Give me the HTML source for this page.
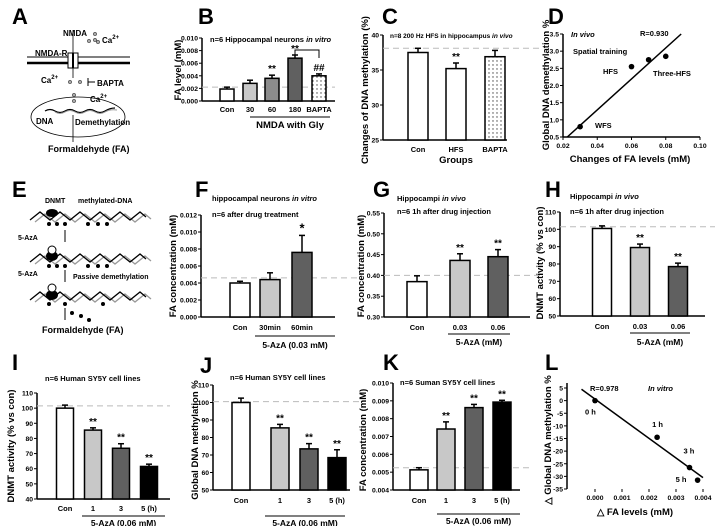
<!DOCTYPE html>
<html><head><meta charset="utf-8">
<style>
html,body{margin:0;padding:0;background:#fff;}
svg{display:block;font-family:"Liberation Sans",Arial,sans-serif;font-weight:bold;}
</style></head>
<body>
<svg id="fig" width="721" height="526" viewBox="0 0 721 526" xmlns="http://www.w3.org/2000/svg">
<defs>
<pattern id="dots" width="4" height="4" patternUnits="userSpaceOnUse"><rect width="4" height="4" fill="#fff"/><circle cx="1" cy="1" r="0.7" fill="#444"/></pattern>
</defs>
<g font-size="22" fill="#000">
<text x="12" y="24">A</text><text x="198" y="24">B</text><text x="382" y="24">C</text><text x="548" y="24">D</text>
<text x="12" y="197">E</text><text x="195" y="197">F</text><text x="373" y="197">G</text><text x="545" y="197">H</text>
<text x="12" y="370">I</text><text x="200" y="373">J</text><text x="383" y="370">K</text><text x="545" y="370">L</text>
</g>
<g font-size="8">
<line x1="27" y1="57" x2="130" y2="57" stroke="#000" stroke-width="1"/>
<line x1="27" y1="63" x2="130" y2="63" stroke="#000" stroke-width="2.5"/>
<rect x="68" y="53" width="10" height="15" fill="#fff" stroke="#000"/>
<line x1="73" y1="53" x2="73" y2="68" stroke="#000" stroke-width="2"/>
<line x1="73" y1="30" x2="73" y2="53" stroke="#000" stroke-width="0.8"/>
<line x1="73" y1="68" x2="73" y2="78" stroke="#000" stroke-width="0.8"/>
<text x="63" y="36">NMDA</text>
<text x="35" y="56">NMDA-R</text>
<text x="102" y="43">Ca<tspan font-size="6" dy="-4">2+</tspan></text>
<text x="41" y="83">Ca<tspan font-size="6" dy="-4">2+</tspan></text>
<text x="97" y="86">BAPTA</text>
<line x1="88" y1="78" x2="88" y2="86" stroke="#000"/><line x1="88" y1="82" x2="95" y2="82" stroke="#000"/>
<text x="90" y="102">Ca<tspan font-size="6" dy="-4">2+</tspan></text>
<g fill="#aaa" stroke="#333" stroke-width="0.6">
<circle cx="95" cy="34" r="1.6"/><circle cx="89" cy="41" r="1.6"/><circle cx="95" cy="40" r="1.6"/><circle cx="98" cy="42" r="1.6"/>
<circle cx="70" cy="82" r="1.6"/><circle cx="80" cy="82" r="1.6"/><circle cx="74" cy="95" r="1.6"/><circle cx="74" cy="101" r="1.6"/>
</g>
<ellipse cx="78" cy="117" rx="47" ry="20" fill="none" stroke="#000" stroke-width="0.8"/>
<path d="M45,111 q5,-3 10,0 t10,0 t10,0 t10,0 t10,0 t10,0 t10,-3" fill="none" stroke="#000" stroke-width="1.2"/>
<path d="M55,112 q5,3 10,0 t10,0 t10,0 t10,0 t10,0 t12,-2" fill="none" stroke="#999" stroke-width="1"/>
<text x="36" y="124">DNA</text>
<text x="75" y="125">Demethylation</text>
<line x1="73" y1="115" x2="73" y2="142" stroke="#000" stroke-width="0.8"/>
<text x="48" y="152" font-size="9">Formaldehyde (FA)</text>
</g>
<g font-size="7">
<text x="45" y="203">DNMT</text><text x="78" y="203">methylated-DNA</text>
<path d="M30,220 l10,-8 l10,8 l10,-8 l10,8 l10,-8 l10,8 l10,-8 l10,8 l10,-8 l10,8 l10,-8 l6,5" fill="none" stroke="#999" stroke-width="1.3" transform="translate(5,2)"/>
<path d="M30,220 l10,-8 l10,8 l10,-8 l10,8 l10,-8 l10,8 l10,-8 l10,8 l10,-8 l10,8 l10,-8 l6,5" fill="none" stroke="#000" stroke-width="1.3"/>
<ellipse cx="52" cy="213" rx="6" ry="4" fill="#000"/>
<g fill="#000"><circle cx="49" cy="224" r="2"/><circle cx="57" cy="224" r="2"/><circle cx="65" cy="224" r="2"/><circle cx="88" cy="224" r="2"/><circle cx="98" cy="224" r="2"/><circle cx="107" cy="224" r="2"/></g>
<line x1="65" y1="230" x2="65" y2="242" stroke="#000"/>
<text x="18" y="240">5-AzA</text>
<path d="M30,262 l10,-8 l10,8 l10,-8 l10,8 l10,-8 l10,8 l10,-8 l10,8 l10,-8 l10,8 l10,-8 l6,5" fill="none" stroke="#999" stroke-width="1.3" transform="translate(5,2)"/>
<path d="M30,262 l10,-8 l10,8 l10,-8 l10,8 l10,-8 l10,8 l10,-8 l10,8 l10,-8 l10,8 l10,-8 l6,5" fill="none" stroke="#000" stroke-width="1.3"/>
<ellipse cx="52" cy="256" rx="6" ry="5" fill="#000"/><circle cx="52" cy="250" r="4" fill="#fff" stroke="#000"/>
<g fill="#000"><circle cx="49" cy="266" r="2"/><circle cx="57" cy="266" r="2"/><circle cx="65" cy="266" r="2"/><circle cx="88" cy="266" r="2"/><circle cx="98" cy="266" r="2"/><circle cx="107" cy="266" r="2"/></g>
<line x1="65" y1="270" x2="65" y2="282" stroke="#000"/>
<text x="18" y="276">5-AzA</text><text x="73" y="279">Passive demethylation</text>
<path d="M30,300 l10,-8 l10,8 l10,-8 l10,8 l10,-8 l10,8 l10,-8 l10,8 l10,-8 l10,8 l10,-8 l6,5" fill="none" stroke="#999" stroke-width="1.3" transform="translate(5,2)"/>
<path d="M30,300 l10,-8 l10,8 l10,-8 l10,8 l10,-8 l10,8 l10,-8 l10,8 l10,-8 l10,8 l10,-8 l6,5" fill="none" stroke="#000" stroke-width="1.3"/>
<ellipse cx="52" cy="295" rx="6" ry="5" fill="#000"/><circle cx="52" cy="288" r="4" fill="#fff" stroke="#000"/>
<g fill="#000"><circle cx="49" cy="304" r="2"/><circle cx="65" cy="304" r="2"/><circle cx="103" cy="304" r="2"/><circle cx="72" cy="313" r="2"/><circle cx="81" cy="316" r="2"/><circle cx="89" cy="320" r="2"/></g>
<line x1="65" y1="308" x2="65" y2="320" stroke="#000"/>
<text x="42" y="333" font-size="9">Formaldehyde (FA)</text>
</g>
<g id="charts"></g>
</svg>
<script>
const bCats=["Con","30","60","180","BAPTA"];
const bVals=[0.0019,0.0028,0.0036,0.0068,0.0040];
const bErrs=[0.0003,0.0005,0.0005,0.0005,0.0003];
const bTicks=[0,0.002,0.004,0.006,0.008,0.010];
const bTickLabels=["0.000","0.002","0.004","0.006","0.008","0.010"];
const bSig=["","","**","**","##"];
const cCats=["Con","HFS","BAPTA"];
const cVals=[37.5,35.2,36.9];
const cErrs=[0.6,0.8,0.9];
const cTicks=[25,30,35,40];
const cSig=["","**",""];
const dX=[0.03,0.06,0.07,0.08];
const dY=[0.8,2.55,2.75,2.85];
const dXTicks=[0.02,0.04,0.06,0.08,0.10];
const dXTickLabels=["0.02","0.04","0.06","0.08","0.10"];
const dYTicks=[0.5,1.0,1.5,2.0,2.5,3.0,3.5];
const dYTickLabels=["0.5","1.0","1.5","2.0","2.5","3.0","3.5"];
const dFit=[[0.0225,0.5],[0.089,3.5]];
const fCats=["Con","30min","60min"];
const fVals=[0.0040,0.0044,0.0076];
const fErrs=[0.0002,0.0008,0.0020];
const fTicks=[0,0.002,0.004,0.006,0.008,0.010,0.012];
const fTickLabels=["0.000","0.002","0.004","0.006","0.008","0.010","0.012"];
const fSig=["","","*"];
const gCats=["Con","0.03","0.06"];
const gVals=[0.385,0.436,0.445];
const gErrs=[0.014,0.016,0.017];
const gTicks=[0.30,0.35,0.40,0.45,0.50,0.55];
const gTickLabels=["0.30","0.35","0.40","0.45","0.50","0.55"];
const gSig=["","**","**"];
const hCats=["Con","0.03","0.06"];
const hVals=[100.5,89.5,78.5];
const hErrs=[1.5,2,2];
const hTicks=[50,60,70,80,90,100,110];
const hSig=["","**","**"];
const iCats=["Con","1","3","5 (h)"];
const iVals=[100,85.5,73.5,61.5];
const iErrs=[2,1.5,3,1.5];
const iTicks=[40,50,60,70,80,90,100,110];
const iSig=["","**","**","**"];
const jCats=["Con","1","3","5 (h)"];
const jVals=[100,85.5,73.5,68.5];
const jErrs=[2.5,2,3,4.5];
const jTicks=[50,60,70,80,90,100,110];
const jSig=["","**","**","**"];
const kCats=["Con","1","3","5 (h)"];
const kVals=[0.00513,0.00742,0.00862,0.00893];
const kErrs=[0.00012,0.0004,0.00018,0.0001];
const kTicks=[0.004,0.005,0.006,0.007,0.008,0.009,0.010];
const kTickLabels=["0.004","0.005","0.006","0.007","0.008","0.009","0.010"];
const kSig=["","**","**","**"];
const lX=[0,0.0023,0.0035,0.0038];
const lY=[0,-14.5,-26.5,-31.5];
const lLabels=["0 h","1 h","3 h","5 h"];
const lXTicks=[0,0.001,0.002,0.003,0.004];
const lXTickLabels=["0.000","0.001","0.002","0.003","0.004"];
const lYTicks=[5,0,-5,-10,-15,-20,-25,-30,-35];
const lFit=[[-0.0005,4.5],[0.004,-30.5]];

const NS="http://www.w3.org/2000/svg";
const root=document.getElementById("charts");
const TF=6.8;
function el(tag,attrs,parent,txt){const e=document.createElementNS(NS,tag);for(const k in attrs)e.setAttribute(k,attrs[k]);if(txt!==undefined)e.textContent=txt;(parent||root).appendChild(e);return e;}
function lin(d0,d1,p0,p1){return v=>p0+(v-d0)/(d1-d0)*(p1-p0);}

function barChart(o,name){
  const g=el("g",{});
  
  
  const y=lin(o.ymin,o.ymax,o.y0,o.y1);
  const ax=el("line",{x1:o.ax,y1:o.y0,x2:o.ax,y2:o.y1,stroke:"#000","stroke-width":1.5},g);
  
  
  const bx=el("line",{x1:o.ax,y1:o.y0,x2:o.xend,y2:o.y0,stroke:"#000","stroke-width":1.5},g);
  
  
  o.ticks.forEach((t,i)=>{
    el("line",{x1:o.ax-3,y1:y(t),x2:o.ax,y2:y(t),stroke:"#000"},g);
    const tl=el("text",{x:o.ax-4,y:y(t)+2.5,"font-size":TF,"text-anchor":"end"},g,o.tickLabels?o.tickLabels[i]:String(t));
    
    
  });
  if(o.dash!==undefined){
    const dl=el("line",{x1:o.ax,y1:y(o.dash),x2:o.dashEnd||o.xend,y2:y(o.dash),stroke:"#bbb","stroke-dasharray":"6,4","stroke-width":1},g);
    
    
  }
  o.cats.forEach((c,i)=>{
    const cx=o.xs[i],w=o.bw,v=o.vals[i],top=y(v);
    const r=el("rect",{x:cx-w/2,y:top,width:w,height:o.y0-top,fill:o.fills[i],stroke:"#000","stroke-width":1.5},g);
    
    
    const et=y(v+o.errs[i]);
    el("line",{x1:cx,y1:top,x2:cx,y2:et,stroke:"#000","stroke-width":1.5},g);
    el("line",{x1:cx-3,y1:et,x2:cx+3,y2:et,stroke:"#000","stroke-width":1.5},g);
    if(o.sig&&o.sig[i]){
      const s=el("text",{x:cx,y:et-3,"font-size":o.sig[i]=="*"?13:10,"text-anchor":"middle"},g,o.sig[i]);
      
      
    }
    const l=el("text",{x:cx,y:o.labY,"font-size":7.5,"text-anchor":"middle"},g,c);
    
    
  });
  if(o.group){
    el("line",{x1:o.group.x1,y1:o.group.ly,x2:o.group.x2,y2:o.group.ly,stroke:"#000"},g);
    const gt=el("text",{x:(o.group.x1+o.group.x2)/2,y:o.group.ty,"font-size":o.group.fs||8.5,"text-anchor":"middle"},g,o.group.text);
    
    
  }
  if(o.ylab){
    const yl=el("text",{x:0,y:0,"font-size":o.ylab.fs||9.5,"text-anchor":"middle",transform:`translate(${o.ylab.x},${o.ylab.y}) rotate(-90)`},g,o.ylab.text);
    
    
  }
  (o.titles||[]).forEach(t=>{
    const tt=el("text",{x:t.x,y:t.y,"font-size":t.fs||7.5},g);
    
    
    tt.innerHTML=t.html;
  });
  return g;
}
const W="#fff",L="#c8c8c8",M="#8c8c8c",D="#606060",K="#000";
barChart({cats:bCats,vals:bVals,errs:bErrs,ticks:bTicks,tickLabels:bTickLabels,sig:bSig,ymin:0,ymax:0.010,y0:101,y1:38,ax:202,xend:335,xs:[227,250,272,295,319],bw:14,fills:[W,L,M,D,"url(#dots)"],labY:112,dash:0.0022,group:{x1:250,x2:330,ly:117,ty:128,text:"NMDA with Gly",fs:9.5},ylab:{x:181,y:70,text:"FA level (mM)"},titles:[{x:210,y:42,html:'n=6  Hippocampal neurons <tspan font-style="italic">in vitro</tspan>'}]},"chart-b");
el("path",{d:"M295,56 V50 H319 V58",fill:"none",stroke:"#000"});
barChart({cats:cCats,vals:cVals,errs:cErrs,ticks:cTicks,sig:cSig,ymin:25,ymax:40,y0:140,y1:35,ax:383,xend:507,xs:[418,456,495],bw:20,fills:[W,W,"url(#dots)"],labY:152,dash:38.1,dashEnd:540,ylab:{x:368,y:90,text:"Changes of DNA methylation (%)"},titles:[{x:390,y:38,fs:6.5,html:'n=8  200 Hz HFS in hippocampus <tspan font-style="italic">in vivo</tspan>'}]},"chart-c");
el("text",{x:456,y:163,"font-size":9.5,"text-anchor":"middle"},root,"Groups");
barChart({cats:fCats,vals:fVals,errs:fErrs,ticks:fTicks,tickLabels:fTickLabels,sig:fSig,ymin:0,ymax:0.012,y0:317,y1:215,ax:201,xend:335,xs:[240,270,302],bw:20,fills:[W,L,D],labY:330,dash:0.0046,dashEnd:360,group:{x1:255,x2:335,ly:336,ty:348,text:"5-AzA (0.03 mM)"},ylab:{x:176,y:266,text:"FA concentration (mM)"},titles:[{x:212,y:201,html:'hippocampal neurons <tspan font-style="italic">in vitro</tspan>'},{x:212,y:217,html:'n=6   after drug treatment'}]},"chart-f");
barChart({cats:gCats,vals:gVals,errs:gErrs,ticks:gTicks,tickLabels:gTickLabels,sig:gSig,ymin:0.30,ymax:0.55,y0:317,y1:213,ax:384,xend:530,xs:[417,460,498],bw:20,fills:[W,L,D],labY:330,dash:0.40,dashEnd:540,group:{x1:448,x2:510,ly:334,ty:345,text:"5-AzA (mM)"},ylab:{x:364,y:266,text:"FA concentration (mM)"},titles:[{x:397,y:201,html:'Hippocampi <tspan font-style="italic">in vivo</tspan>'},{x:397,y:214,html:'n=6 1h after drug injection'}]},"chart-g");
barChart({cats:hCats,vals:hVals,errs:hErrs,ticks:hTicks,sig:hSig,ymin:50,ymax:110,y0:316,y1:212,ax:560,xend:705,xs:[602,640,678],bw:19,fills:[W,L,D],labY:329,dash:101.5,dashEnd:715,group:{x1:630,x2:690,ly:333,ty:345,text:"5-AzA (mM)"},ylab:{x:543,y:263,text:"DNMT activity (% vs con)"},titles:[{x:570,y:199,html:'Hippocampi <tspan font-style="italic">in vivo</tspan>'},{x:570,y:214,html:'n=6 1h after drug injection'}]},"chart-h");
barChart({cats:iCats,vals:iVals,errs:iErrs,ticks:iTicks,sig:iSig,ymin:40,ymax:110,y0:499,y1:393,ax:37,xend:170,xs:[65,93,121,149],bw:17,fills:[W,L,D,K],labY:511,dash:101.5,dashEnd:170,group:{x1:82,x2:165,ly:516,ty:526,text:"5-AzA (0.06 mM)"},ylab:{x:14,y:446,text:"DNMT activity (% vs con)"},titles:[{x:45,y:381,html:'n=6  Human SY5Y cell lines'}]},"chart-i");
barChart({cats:jCats,vals:jVals,errs:jErrs,ticks:jTicks,sig:jSig,ymin:50,ymax:110,y0:490,y1:385,ax:213,xend:350,xs:[241,280,309,337],bw:18,fills:[W,L,D,K],labY:503,dash:100.5,dashEnd:360,group:{x1:265,x2:345,ly:516,ty:526,text:"5-AzA (0.06 mM)"},ylab:{x:198,y:440,text:"Global DNA methylation %"},titles:[{x:230,y:380,html:'n=6  Human SY5Y cell lines'}]},"chart-j");
barChart({cats:kCats,vals:kVals,errs:kErrs,ticks:kTicks,tickLabels:kTickLabels,sig:kSig,ymin:0.004,ymax:0.010,y0:490,y1:383,ax:393,xend:520,xs:[419,446,474,502],bw:18,fills:[W,L,D,K],labY:503,dash:0.00525,dashEnd:530,group:{x1:437,x2:520,ly:514,ty:524,text:"5-AzA (0.06 mM)"},ylab:{x:366,y:440,text:"FA concentration (mM)"},titles:[{x:400,y:385,html:'n=6  Suman SY5Y cell lines'}]},"chart-k");

function scatter(o,name){
  const g=el("g",{});
  
  
  const x=lin(o.xmin,o.xmax,o.x0,o.x1),y=lin(o.ymin,o.ymax,o.y0,o.y1);
  const ya=el("line",{x1:o.ax,y1:o.yTop,x2:o.ax,y2:o.ay,stroke:"#000","stroke-width":1.5},g);
  
  
  const xa=el("line",{x1:o.ax,y1:o.ay,x2:o.xRight,y2:o.ay,stroke:"#000","stroke-width":1.5},g);
  
  
  o.yt.forEach((t,i)=>{el("line",{x1:o.ax-3,y1:y(t),x2:o.ax,y2:y(t),stroke:"#000"},g);
    const tl=el("text",{x:o.ax-4,y:y(t)+2.5,"font-size":TF,"text-anchor":"end"},g,o.ytl?o.ytl[i]:String(t));
    
    });
  o.xt.forEach((t,i)=>{el("line",{x1:x(t),y1:o.ay,x2:x(t),y2:o.ay+3,stroke:"#000"},g);
    const tl=el("text",{x:x(t),y:o.ay+11,"font-size":TF,"text-anchor":"middle"},g,o.xtl[i]);
    
    });
  const fl=el("line",{x1:x(o.fit[0][0]),y1:y(o.fit[0][1]),x2:x(o.fit[1][0]),y2:y(o.fit[1][1]),stroke:"#000","stroke-width":1.5},g);
  
  
  o.xs.forEach((v,i)=>{const p=el("circle",{cx:x(v),cy:y(o.ys[i]),r:2.8,fill:"#000"},g);
    
    });
  return {g,x,y};
}
const d=scatter({xs:dX,ys:dY,xt:dXTicks,xtl:dXTickLabels,yt:dYTicks,ytl:dYTickLabels,fit:dFit,xmin:0.02,xmax:0.10,x0:563,x1:700,ymin:0.5,ymax:3.5,y0:137,y1:34,ax:563,ay:137,yTop:34,xRight:700},"chart-d");
[["In vivo",571,37,"italic"],["R=0.930",640,36],["Spatial training",573,54],["HFS",603,74],["Three-HFS",653,76],["WFS",595,128]].forEach(a=>{const t=el("text",{x:a[1],y:a[2],"font-size":7.5,"font-style":a[3]||"normal"},d.g,a[0]);});
el("text",{x:0,y:0,"font-size":9.5,"text-anchor":"middle",transform:"translate(549,85) rotate(-90)"},d.g,"Global DNA demethylation %");
el("text",{x:630,y:162,"font-size":9.5,"text-anchor":"middle"},d.g,"Changes of FA levels (mM)");
const lc=scatter({xs:lX,ys:lY,xt:lXTicks,xtl:lXTickLabels,yt:lYTicks,fit:lFit,xmin:0,xmax:0.004,x0:595,x1:703,ymin:5,ymax:-35,y0:388,y1:489,ax:567,ay:489,yTop:383,xRight:567},"chart-l");
lX.forEach((v,i)=>{const off=[[-10,14],[-5,-10],[-6,-14],[-22,2]][i];const t=el("text",{x:lc.x(v)+off[0],y:lc.y(lY[i])+off[1],"font-size":7.5},lc.g,lLabels[i]);});
el("text",{x:590,y:391,"font-size":7.5},lc.g,"R=0.978");
el("text",{x:648,y:391,"font-size":7.5,"font-style":"italic"},lc.g,"In vitro");
el("text",{x:0,y:0,"font-size":9.5,"text-anchor":"middle",transform:"translate(551,440) rotate(-90)"},lc.g,"△ Global DNA methylation %");
el("text",{x:635,y:515,"font-size":9.5,"text-anchor":"middle"},lc.g,"△   FA levels (mM)");
</script>
</body></html>
